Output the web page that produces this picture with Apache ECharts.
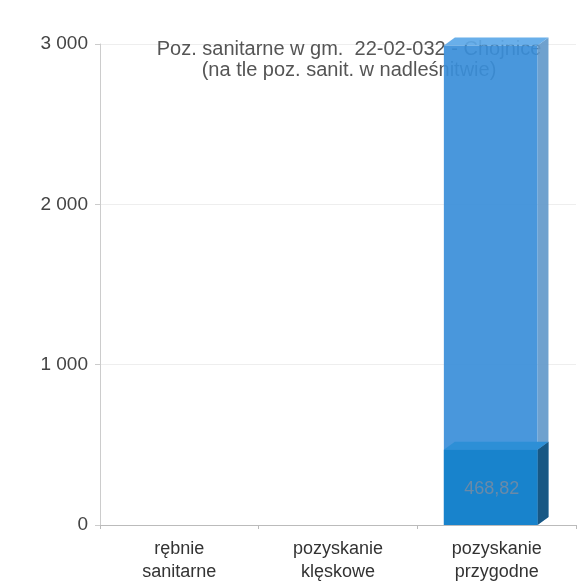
<!DOCTYPE html>
<html>
<head>
  <meta charset="UTF-8">
  <title>Poz. sanitarne</title>
  <script src="https://cdn.jsdelivr.net/npm/echarts@6/dist/echarts.min.js"></script>
</head>
<body style="margin:0;background:#fff;">
  <div id="chart" style="width:583px;height:582px;"></div>
  <script type="text/javascript">
    // kategorie i wartości
    const categories = ['rębnie\nsanitarne', 'pozyskanie\nklęskowe', 'pozyskanie\nprzygodne'];
    const nadlesnictwo = [0, 0, 2990];     // tło – poz. sanit. w nadleśnictwie
    const gmina = [0, 0, 468.82];          // gm. 22-02-032 Chojnice
    const yTicks = [0, 1000, 2000, 3000];

    const fmt = v => String(v).replace(/\B(?=(\d{3})+(?!\d))/g, ' ');

    // pseudo-3D słupek: front, góra, bok
    function bar3d(colors, showLabel, alpha) {
      return function (params, api) {
        const v = api.value(1);
        if (!v) return;
        const top = api.coord([api.value(0), v]);
        const bot = api.coord([api.value(0), 0]);
        const band = api.size([1, 0])[0];
        const w = band * 0.59;
        const x0 = top[0] - w / 2 - 6;
        const x1 = x0 + w;
        const yT = top[1], yB = bot[1];
        const dx = 11, dy = -8;
        const children = [
          { type: 'polygon', shape: { points: [[x1, yT], [x1 + dx, yT + dy], [x1 + dx, yB + dy], [x1, yB]] },
            style: { fill: colors.side, opacity: alpha } },
          { type: 'polygon', shape: { points: [[x0, yT], [x0 + dx, yT + dy], [x1 + dx, yT + dy], [x1, yT]] },
            style: { fill: colors.top, opacity: alpha } },
          { type: 'rect', shape: { x: x0, y: yT, width: w, height: yB - yT },
            style: { fill: colors.front, opacity: alpha } }
        ];
        if (showLabel) {
          children.push({
            type: 'text',
            style: {
              text: String(v).replace('.', ','),
              x: (x0 + x1) / 2 + 1, y: (yT + yB) / 2 + 2,
              align: 'center', verticalAlign: 'middle',
              fill: '#6a8aa8', font: '18px "Liberation Sans", Arial, sans-serif'
            }
          });
        }
        return { type: 'group', children: children };
      };
    }

    const chart = echarts.init(document.getElementById('chart'));
    chart.setOption({
      animation: false,
      backgroundColor: '#ffffff',
      title: {
        text: 'Poz. sanitarne w gm.  22-02-032 - Chojnice\n(na tle poz. sanit. w nadleśnitwie)',
        left: 344, top: 34, textAlign: 'center', z: 0,
        textStyle: {
          fontFamily: '"Liberation Sans", Arial, sans-serif',
          fontSize: 20, fontWeight: 'normal', color: '#555', lineHeight: 21
        }
      },
      grid: { left: 100, right: 7, top: 44, bottom: 57, outerBoundsMode: 'none', containLabel: false },
      xAxis: {
        type: 'category',
        data: categories,
        axisLine: { lineStyle: { color: '#bbb' } },
        axisTick: { show: true, length: 4, lineStyle: { color: '#bbb' } },
        axisLabel: {
          color: '#333', fontSize: 18, lineHeight: 23, margin: 13,
          fontFamily: '"Liberation Sans", Arial, sans-serif'
        }
      },
      yAxis: {
        type: 'value',
        min: yTicks[0], max: yTicks[yTicks.length - 1], interval: 1000,
        axisLine: { show: true, lineStyle: { color: '#ccc' } },
        axisTick: { show: true, length: 5, lineStyle: { color: '#ccc' } },
        splitLine: { lineStyle: { color: '#eeeeee' } },
        axisLabel: {
          color: '#444', fontSize: 19, margin: 12,
          fontFamily: '"Liberation Sans", Arial, sans-serif',
          formatter: fmt
        }
      },
      series: [
        {
          type: 'custom', z: 2,
          renderItem: bar3d({ front: '#3a8ed9', top: '#5ca8e8', side: '#6399ca' }, false, 0.92),
          data: nadlesnictwo.map((v, i) => [i, v])
        },
        {
          type: 'custom', z: 3,
          renderItem: bar3d({ front: '#1883cc', top: '#2d8fd6', side: '#175784' }, true, 1),
          data: gmina.map((v, i) => [i, v])
        }
      ]
    });
  </script>
</body>
</html>
